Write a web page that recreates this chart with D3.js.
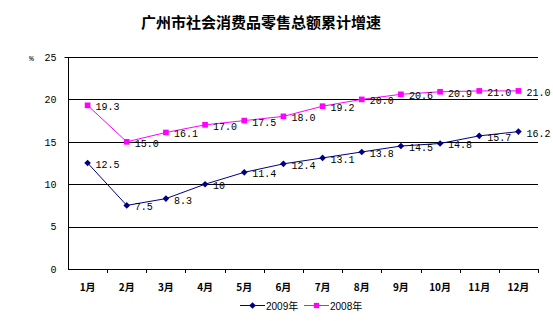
<!DOCTYPE html>
<html>
<head>
<meta charset="utf-8">
<script src="https://cdn.jsdelivr.net/npm/d3@7"></script>
<style>
  body { margin: 0; background: #fff; }
  text { font-family: "Liberation Mono", "Noto Sans CJK SC", monospace; }
</style>
</head>
<body>
<div id="chart"></div>
<script>
var months = ["1月", "2月", "3月", "4月", "5月", "6月", "7月", "8月", "9月", "10月", "11月", "12月"];
var values2009 = [12.5, 7.5, 8.3, 10, 11.4, 12.4, 13.1, 13.8, 14.5, 14.8, 15.7, 16.2];
var values2008 = [19.3, 15.0, 16.1, 17.0, 17.5, 18.0, 19.2, 20.0, 20.6, 20.9, 21.0, 21.0];
var labels2009 = ["12.5", "7.5", "8.3", "10", "11.4", "12.4", "13.1", "13.8", "14.5", "14.8", "15.7", "16.2"];
var labels2008 = ["19.3", "15.0", "16.1", "17.0", "17.5", "18.0", "19.2", "20.0", "20.6", "20.9", "21.0", "21.0"];
var yTicks = [0, 5, 10, 15, 20, 25];

var width = 553, height = 321;
var plotLeft = 68, plotRight = 538, plotTop = 57, plotBottom = 269;

var svg = d3.select("#chart").append("svg")
  .attr("width", width)
  .attr("height", height);

var x = d3.scaleBand().domain(months).range([plotLeft, plotRight]);
var y = d3.scaleLinear().domain([0, 25]).range([plotBottom, plotTop]);

// title
svg.append("text")
  .attr("x", 261)
  .attr("y", 28)
  .attr("text-anchor", "middle")
  .style("font-family", "'Noto Sans CJK SC', sans-serif")
  .style("font-size", "15px")
  .style("font-weight", "bold")
  .text("广州市社会消费品零售总额累计增速");

// gridlines
svg.selectAll(".grid").data(yTicks.slice(1)).enter()
  .append("line")
  .attr("class", "grid")
  .attr("x1", plotLeft).attr("x2", plotRight)
  .attr("y1", function(d) { return Math.round(y(d)) + 0.5; })
  .attr("y2", function(d) { return Math.round(y(d)) + 0.5; })
  .attr("stroke", "#000")
  .attr("stroke-width", 1.2);

// y axis
var yAxis = d3.axisLeft(y).tickValues(yTicks).tickSize(4).tickPadding(8);
var gy = svg.append("g")
  .attr("transform", "translate(" + (plotLeft + 0.5) + ",0)")
  .call(yAxis);
gy.select(".domain").attr("stroke", "#000").attr("d", "M-4," + (plotTop + 0.5) + "H0V" + (plotBottom + 0.5));
gy.selectAll(".tick line").remove();
gy.selectAll("text").style("font-size", "10px").style("font-family", "'Liberation Mono', monospace");

svg.append("text")
  .attr("x", 29).attr("y", 61)
  .style("font-size", "8px")
  .text("%");

// x axis
var xAxis = d3.axisBottom(x).tickSize(0).tickPadding(14);
var gx = svg.append("g")
  .attr("transform", "translate(0," + (plotBottom + 0.5) + ")")
  .call(xAxis);
gx.select(".domain").attr("stroke", "#000").attr("d", "M" + plotLeft + ",0H" + plotRight);
gx.selectAll("text")
  .style("font-size", "10px")
  .style("font-weight", "bold")
  .style("font-family", "'Noto Sans CJK SC', sans-serif");

// band boundary ticks
svg.selectAll(".xtick").data(months).enter()
  .append("line")
  .attr("x1", function(d) { return Math.round(x(d) + x.bandwidth()) + 0.5; })
  .attr("x2", function(d) { return Math.round(x(d) + x.bandwidth()) + 0.5; })
  .attr("y1", plotBottom).attr("y2", plotBottom + 4)
  .attr("stroke", "#000");

function cx(d, i) { return x(months[i]) + x.bandwidth() / 2; }

var line = d3.line()
  .x(function(d, i) { return cx(d, i); })
  .y(function(d) { return y(d); });

// diamond = square turned by 45 degrees
function drawSeries(values, labels, colour, size, rotate) {
  svg.append("path")
    .datum(values)
    .attr("d", line)
    .attr("fill", "none")
    .attr("stroke", colour)
    .attr("stroke-width", 1);

  svg.selectAll(null).data(values).enter()
    .append("path")
    .attr("d", d3.symbol().type(d3.symbolSquare).size(size))
    .attr("transform", function(d, i) {
      return "translate(" + cx(d, i) + "," + y(d) + ") rotate(" + rotate + ")";
    })
    .attr("fill", colour);

  svg.selectAll(null).data(values).enter()
    .append("text")
    .attr("x", function(d, i) { return cx(d, i) + 8; })
    .attr("y", function(d) { return y(d) + 5; })
    .style("font-size", "10px")
    .text(function(d, i) { return labels[i]; });
}

drawSeries(values2009, labels2009, "#000080", 22, 45);
drawSeries(values2008, labels2008, "#ff00ff", 32, 0);

// legend
var legend = [
  { name: "2009年", colour: "#000080", size: 22, rotate: 45, x: 240 },
  { name: "2008年", colour: "#ff00ff", size: 28, rotate: 0, x: 304 }
];
var lg = svg.selectAll(".legend").data(legend).enter()
  .append("g")
  .attr("transform", function(d) { return "translate(" + d.x + ",305.5)"; });
lg.append("line")
  .attr("x1", 0).attr("x2", 25)
  .attr("stroke", function(d) { return d.colour; });
lg.append("path")
  .attr("d", function(d) { return d3.symbol().type(d3.symbolSquare).size(d.size)(); })
  .attr("transform", function(d) { return "translate(12.5,0) rotate(" + d.rotate + ")"; })
  .attr("fill", function(d) { return d.colour; });
lg.append("text")
  .attr("x", 26).attr("y", 4)
  .style("font-size", "10px")
  .style("font-family", "'Liberation Sans', 'Noto Sans CJK SC', sans-serif")
  .text(function(d) { return d.name; });
</script>
</body>
</html>
